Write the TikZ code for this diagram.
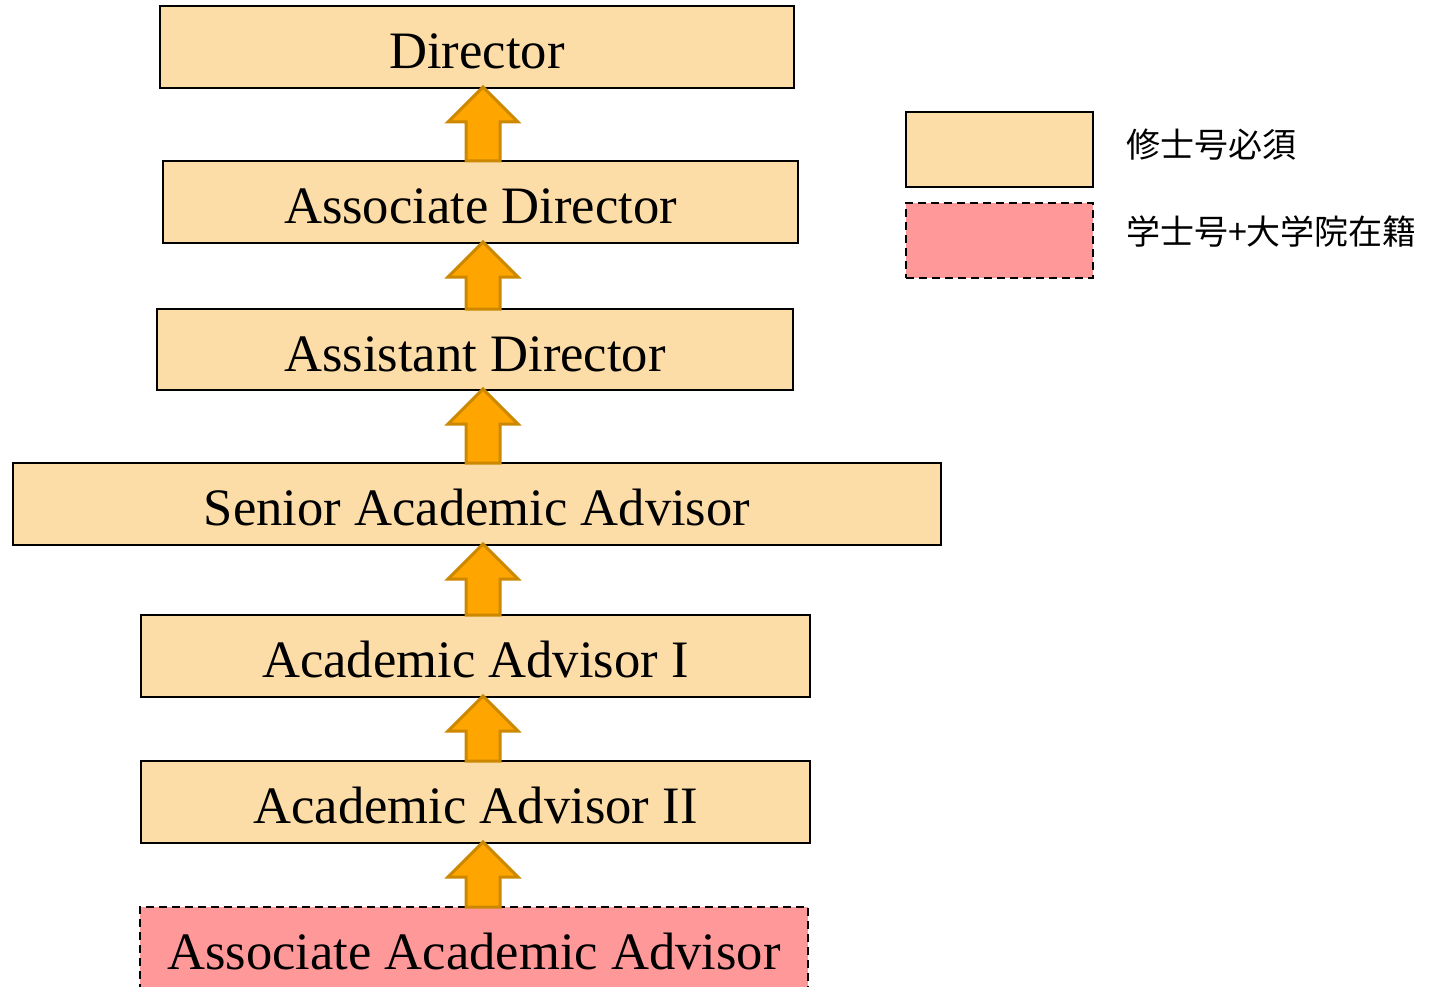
\documentclass[tikz,border=0pt]{standalone}
\usepackage{fontspec}
\setmainfont{Liberation Serif}
\newfontfamily\jpfont{Noto Sans CJK JP}
\usetikzlibrary{calc}

\definecolor{rankfill}{RGB}{252,220,167}
\definecolor{gradfill}{RGB}{255,153,153}
\definecolor{arrowfill}{RGB}{255,165,0}
\definecolor{arrowline}{RGB}{204,136,0}

\tikzset{every picture/.style={line width=2pt}}
\tikzset{
  rankbox/.style={draw=black, fill=rankfill, line width=2pt, inner sep=0pt,
    text height=43pt, text depth=0pt, font=\fontsize{52.6}{60}\selectfont},
  gradbox/.style={rankbox, fill=gradfill, dash pattern=on 8pt off 5pt},
  keytext/.style={anchor=west, inner sep=0pt, font=\jpfont\fontsize{34}{40}\selectfont},
  liftarrow/.style={draw=arrowline, fill=arrowfill, line width=3pt,
    to path={let \p1=(\tikztostart), \p2=(\tikztotarget) in
      (\x1-17pt,\y1-1pt) -- (\x1-17pt,\y2-33pt) -- (\x1-35pt,\y2-33pt) -- (\x1,\y2+2pt)
      -- (\x1+35pt,\y2-33pt) -- (\x1+17pt,\y2-33pt) -- (\x1+17pt,\y1-1pt) -- cycle}}
}

\begin{document}
\begin{tikzpicture}[x=1pt,y=-1pt]
\useasboundingbox (0,0) rectangle (1435,987);
\clip (0,0) rectangle (1435,987);

%Shape: Rectangle [ranks]
\node[rankbox, minimum width=634pt, minimum height=82pt] (dir) at (477,47) {Director};
\node[rankbox, minimum width=635pt, minimum height=82pt] (assocdir) at (480.5,202) {Associate Director};
\node[rankbox, minimum width=636pt, minimum height=81pt] (asstdir) at (475,349.5) {Assistant Director};
\node[rankbox, minimum width=928pt, minimum height=82pt] (senior) at (477,504) {Senior Academic Advisor};
\node[rankbox, minimum width=669pt, minimum height=82pt] (aa1) at (475.5,656) {Academic Advisor I};
\node[rankbox, minimum width=669pt, minimum height=82pt] (aa2) at (475.5,802) {Academic Advisor II};
\node[gradbox, minimum width=668pt, minimum height=82pt] (aaa) at (474,948) {Associate Academic Advisor};

%Block Arrows
\coordinate (axis) at (483,0);
\draw[liftarrow] (aaa.north -| axis) to (aa2.south -| axis);
\draw[liftarrow] (aa2.north -| axis) to (aa1.south -| axis);
\draw[liftarrow] (aa1.north -| axis) to (senior.south -| axis);
\draw[liftarrow] (senior.north -| axis) to (asstdir.south -| axis);
\draw[liftarrow] (asstdir.north -| axis) to (assocdir.south -| axis);
\draw[liftarrow] (assocdir.north -| axis) to (dir.south -| axis);

%Legend
\node[rankbox, minimum width=187pt, minimum height=75pt] (keyrank) at (999.5,149.5) {};
\node[gradbox, minimum width=187pt, minimum height=75pt] (keygrad) at (999.5,240.5) {};
% Text Node
\node[keytext] (ranklabel) at (1125,145) {修士号必須};
% Text Node
\node[keytext] (gradlabel) at (1125,232) {学士号+大学院在籍};

\end{tikzpicture}
\end{document}
